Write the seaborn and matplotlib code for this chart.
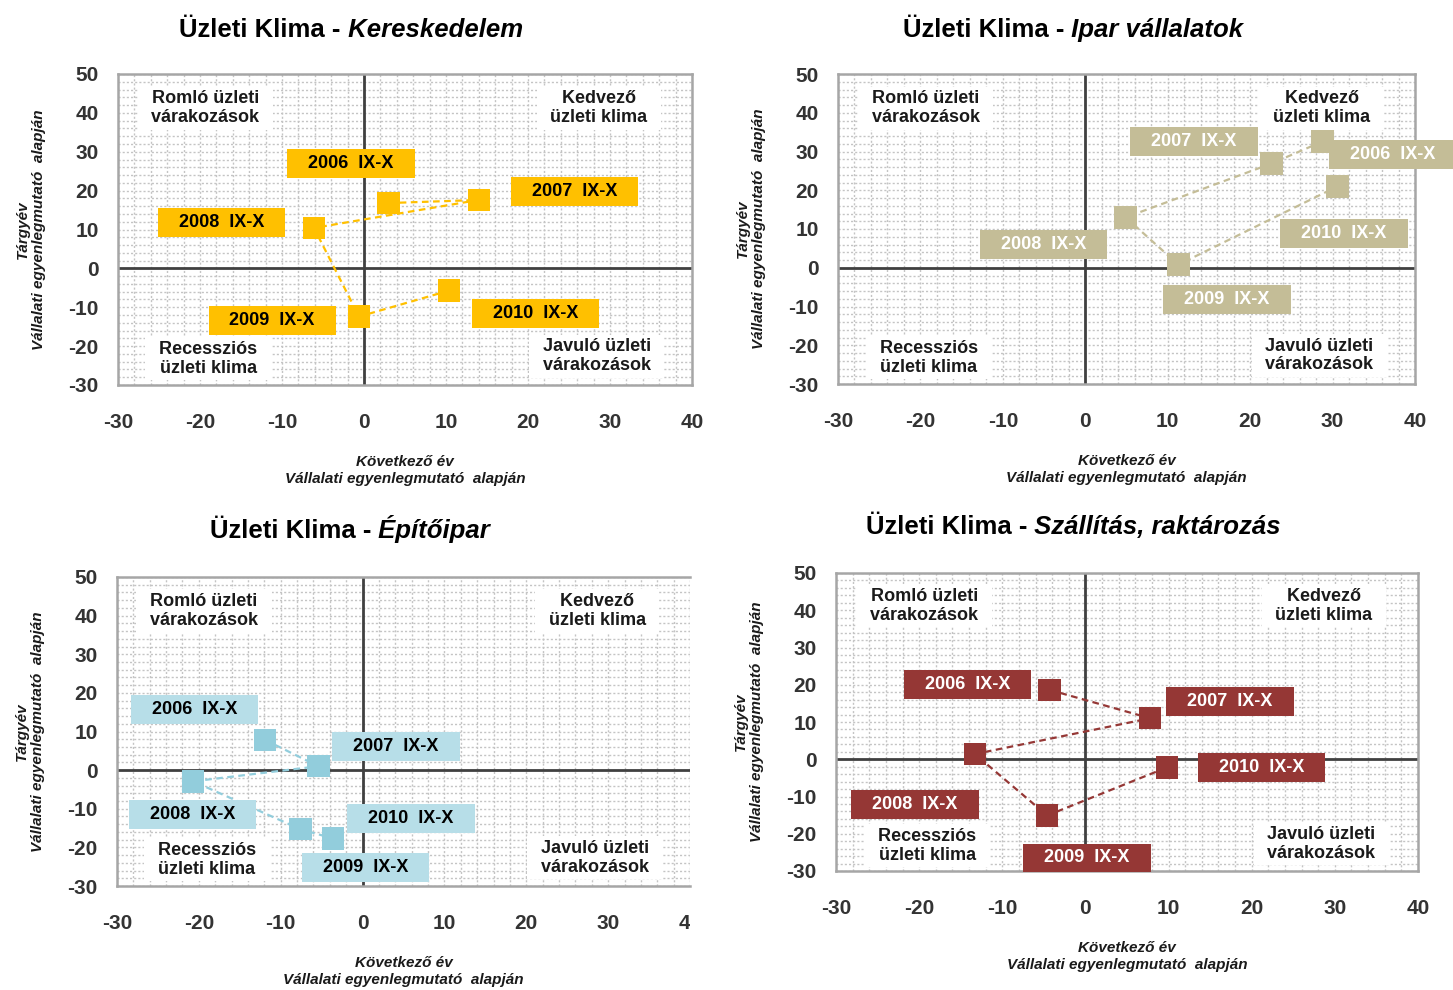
import pandas as pd
import matplotlib.pyplot as plt
import seaborn as sns
from matplotlib.ticker import MultipleLocator
from matplotlib.transforms import Bbox

# --- data ---
years = ['2006  IX-X', '2007  IX-X', '2008  IX-X', '2009  IX-X', '2010  IX-X']
x_ticks = [-30, -20, -10, 0, 10, 20, 30, 40]
y_ticks = [-30, -20, -10, 0, 10, 20, 30, 40, 50]

# Kereskedelem
ker_x = [3.0, 14.0, -6.1, -0.6, 10.4]
ker_y = [16.8, 17.6, 10.4, -12.4, -5.7]
ker_lab_x = [-1.6, 25.7, -17.4, -11.2, 20.9]
ker_lab_y = [27.0, 19.7, 11.7, -13.5, -11.7]

# Ipar vállalatok
ipar_x = [28.8, 22.6, 4.9, 11.3, 30.6]
ipar_y = [32.6, 26.9, 13.0, 0.8, 21.0]
ipar_lab_x = [37.3, 13.2, -5.1, 17.2, 31.4]
ipar_lab_y = [29.3, 32.6, 6.0, -8.3, 8.8]

# Építőipar
epit_x = [-11.9, -5.4, -20.7, -7.6, -3.6]
epit_y = [7.8, 1.0, -2.9, -15.3, -17.7]
epit_lab_x = [-20.5, 4.1, -20.8, 0.4, 5.9]
epit_lab_y = [15.6, 6.2, -11.4, -25.2, -12.5]

# Szállítás, raktározás
szall_x = [-4.3, 7.8, -13.3, -4.6, 9.8]
szall_y = [18.6, 11.0, 1.4, -15.1, -2.2]
szall_lab_x = [-14.2, 17.4, -20.5, 0.2, 21.2]
szall_lab_y = [20.0, 15.4, -12.2, -26.5, -2.2]

quadrants = ['Romló üzleti\nvárakozások', 'Kedvező\nüzleti klima',
             'Recessziós\nüzleti klima', 'Javuló üzleti\nvárakozások']

panels = [
    dict(sub='Kereskedelem', x=ker_x, y=ker_y, lx=ker_lab_x, ly=ker_lab_y,
         mark='#FFC000', box='#FFC000', txt='black',
         rect=[118, 74, 692, 385], title=(351, 37)),
    dict(sub='Ipar vállalatok', x=ipar_x, y=ipar_y, lx=ipar_lab_x, ly=ipar_lab_y,
         mark='#C4BD97', box='#C4BD97', txt='white',
         rect=[838, 74, 1415, 384], title=(1073, 37)),
    dict(sub='Építőipar', x=epit_x, y=epit_y, lx=epit_lab_x, ly=epit_lab_y,
         mark='#92CDDC', box='#B7DEE8', txt='black',
         rect=[117, 577, 690, 886], title=(350, 538)),
    dict(sub='Szállítás, raktározás', x=szall_x, y=szall_y, lx=szall_lab_x, ly=szall_lab_y,
         mark='#953735', box='#953735', txt='white',
         rect=[836, 573, 1418, 871], title=(1073, 534)),
]

sns.set_theme(style='white')
plt.rcParams['font.family'] = ['Liberation Sans', 'DejaVu Sans']
plt.rcParams['axes.unicode_minus'] = False

W, H = 1453, 990
fig = plt.figure(figsize=(W / 100, H / 100), dpi=100)
fig.patch.set_facecolor('white')

axes = []
for p in panels:
    l, t, r, b = p['rect']
    ax = fig.add_axes([l / W, 1 - b / H, (r - l) / W, (b - t) / H])
    axes.append(ax)
    df = pd.DataFrame({'x': p['x'], 'y': p['y'], 'ev': years})

    sns.lineplot(data=df, x='x', y='y', sort=False, estimator=None, ax=ax,
                 color=p['mark'], linestyle=(0, (3, 2)), linewidth=1.6, zorder=4)
    sns.scatterplot(data=df, x='x', y='y', ax=ax, marker='s', s=260,
                    color=p['mark'], edgecolor='none', linewidth=0, zorder=5)

    for lab, lx, ly in zip(years, p['lx'], p['ly']):
        ax.text(lx, ly, '   ' + lab + '   ', ha='center', va='center',
                fontsize=13, fontweight='bold', color=p['txt'], zorder=6,
                bbox=dict(boxstyle='square,pad=0.33', fc=p['box'], ec='none'))

    # quadrant captions
    qpos = [(0.152, 0.89), (0.838, 0.89), (0.157, 0.085), (0.834, 0.092)]
    for q, (qx, qy) in zip(quadrants, qpos):
        padded = '\n'.join('  ' + s + '  ' for s in q.split('\n'))
        ax.text(qx, qy, padded, transform=ax.transAxes, ha='center', va='center',
                fontsize=13, fontweight='bold', color='#1a1a1a', linespacing=1.15,
                zorder=3, bbox=dict(boxstyle='square,pad=0.2', fc='white', ec='none'))

    ax.axhline(0, color='#404040', lw=2, zorder=2)
    ax.axvline(0, color='#404040', lw=2, zorder=2)

    ax.set_xlim(-30, 40)
    ax.set_ylim(-30, 50)
    ax.set_xticks(x_ticks)
    ax.set_yticks(y_ticks)
    ax.xaxis.set_minor_locator(MultipleLocator(2))
    ax.yaxis.set_minor_locator(MultipleLocator(2))
    ax.grid(which='both', color='#c4c4c4', linestyle=(0, (1.5, 1.5)), linewidth=1.0)
    ax.set_axisbelow(True)
    ax.tick_params(which='both', length=0)
    ax.tick_params(axis='x', pad=20, labelsize=15, labelcolor='#333333')
    ax.tick_params(axis='y', pad=14, labelsize=15, labelcolor='#333333')
    for lb in ax.get_xticklabels() + ax.get_yticklabels():
        lb.set_fontweight('bold')
    for sp in ax.spines.values():
        sp.set_color('#a6a6a6')
        sp.set_linewidth(1.8)

    ax.set_xlabel('Következő év\nVállalati egyenlegmutató  alapján', fontsize=11,
                  fontweight='bold', style='italic', labelpad=17, color='#1a1a1a')
    ax.set_ylabel('Tárgyév\nVállalati egyenlegmutató  alapján', fontsize=11,
                  fontweight='bold', style='italic', labelpad=16, color='#1a1a1a')

# panel 3 is cropped on the right in the reference
axes[2].spines['right'].set_visible(False)

# two-part titles (bold + bold italic), centred on the measured spot
renderer = fig.canvas.get_renderer()
for p in panels:
    cx, by = p['title']
    t1 = fig.text(0, 1 - by / H, 'Üzleti Klima -', fontsize=18.5, fontweight='bold',
                  ha='left', va='baseline', color='black')
    t2 = fig.text(0, 1 - by / H, ' ' + p['sub'], fontsize=18.5, fontweight='bold',
                  style='italic', ha='left', va='baseline', color='black')
    w1 = t1.get_window_extent(renderer).width
    w2 = t2.get_window_extent(renderer).width
    x0 = cx - (w1 + w2) / 2
    t1.set_x(x0 / W)
    t2.set_x((x0 + w1) / W)

# clip the last x tick label of the cropped panel
fig.canvas.draw()
clip = Bbox([[0, 0], [690, H]])
for tk in axes[2].xaxis.get_major_ticks():
    tk.label1.set_clip_on(True)
    tk.label1.set_clip_box(clip)

fig.savefig('out.png', dpi=100, facecolor='white')
